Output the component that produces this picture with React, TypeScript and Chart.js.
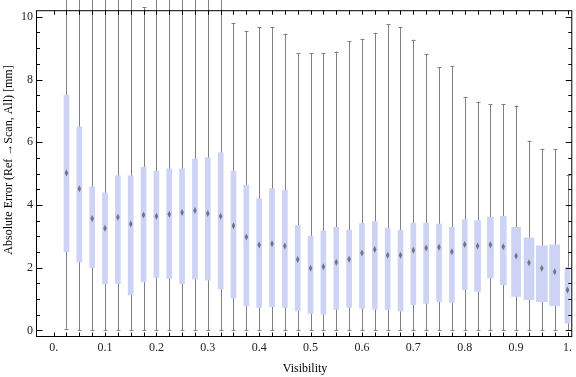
import React, { useEffect, useRef } from "react";
import { Chart, registerables } from "chart.js";
Chart.register(...registerables);

const visibility = [0.025, 0.05, 0.075, 0.1, 0.125, 0.15, 0.175, 0.2, 0.225, 0.25, 0.275, 0.3, 0.325, 0.35, 0.375, 0.4, 0.425, 0.45, 0.475, 0.5, 0.525, 0.55, 0.575, 0.6, 0.625, 0.65, 0.675, 0.7, 0.725, 0.75, 0.775, 0.8, 0.825, 0.85, 0.875, 0.9, 0.925, 0.95, 0.975, 1.0];
const whiskerMin = [0.05, 0, 0, 0, 0, 0, 0, 0, 0, 0, 0, 0, 0, 0, 0, 0, 0, 0, 0, 0, 0, 0, 0, 0, 0, 0, 0, 0, 0, 0, 0, 0, 0, 0, 0, 0, 0, 0, 0, 0];
const q1 = [2.51, 2.18, 2.01, 1.48, 1.5, 1.13, 1.55, 1.69, 1.66, 1.5, 1.63, 1.6, 1.32, 1.04, 0.78, 0.73, 0.76, 0.73, 0.62, 0.54, 0.51, 0.67, 0.73, 0.7, 0.67, 0.67, 0.61, 0.82, 0.86, 0.92, 0.89, 1.3, 1.24, 1.67, 1.45, 1.08, 0.98, 0.92, 0.79, 0.23];
const median = [5.02, 4.52, 3.57, 3.26, 3.61, 3.39, 3.68, 3.64, 3.7, 3.76, 3.82, 3.73, 3.64, 3.34, 2.98, 2.72, 2.76, 2.69, 2.26, 1.98, 2.03, 2.17, 2.27, 2.47, 2.58, 2.4, 2.4, 2.56, 2.63, 2.65, 2.51, 2.74, 2.69, 2.73, 2.67, 2.37, 2.16, 1.98, 1.87, 1.29];
const q3 = [7.5, 6.49, 4.58, 4.39, 4.93, 4.93, 5.21, 5.08, 5.15, 5.15, 5.46, 5.5, 5.67, 5.08, 4.63, 4.2, 4.52, 4.47, 3.35, 3.01, 3.17, 3.29, 3.2, 3.41, 3.47, 3.26, 3.2, 3.42, 3.42, 3.39, 3.29, 3.53, 3.5, 3.61, 3.64, 3.29, 2.95, 2.7, 2.73, 2.0];
const whiskerMax = [11, 11, 11, 11, 11, 11, 10.3, 11, 11, 11, 11, 11, 11, 9.8, 9.55, 9.68, 9.68, 9.46, 8.83, 8.83, 8.83, 8.89, 9.22, 9.3, 9.49, 9.77, 9.68, 9.27, 8.8, 8.4, 8.43, 7.45, 7.29, 7.21, 7.21, 7.17, 6.05, 5.79, 5.77, 4.94];

const xTickValues = [0, 0.1, 0.2, 0.3, 0.4, 0.5, 0.6, 0.7, 0.8, 0.9, 1.0];
const xTickLabels = ["0.", "0.1", "0.2", "0.3", "0.4", "0.5", "0.6", "0.7", "0.8", "0.9", "1."];
const yTickValues = [0, 2, 4, 6, 8, 10];
const yTickLabels = ["0", "2", "4", "6", "8", "10"];
const xTitle = "Visibility";
const yTitle = "Absolute Error (Ref \u2192Scan, All) [mm]";

// style: box widths in px
const boxWidths = [5, 5, 5, 5, 5, 5, 5, 5, 5, 5, 5, 5, 5, 5, 5, 5, 5, 5, 5, 5, 5, 5, 5, 5, 5, 5, 5, 5, 5, 5, 5, 5, 6, 6, 6, 9, 10, 11, 10, 5];

const BOX_COLOR = "rgb(204, 211, 245)";
const WHISKER_COLOR = "rgb(128, 128, 128)";
const FONT = "'Liberation Serif', 'Times New Roman', serif";

export default function App() {
  const ref = useRef<HTMLCanvasElement | null>(null);

  useEffect(() => {
    document.body.style.margin = "0";
    const canvas = ref.current;
    if (!canvas) return;

    const widthsUnique = Array.from(new Set(boxWidths));
    const datasets = widthsUnique.map((w) => ({
      label: "w" + w,
      data: visibility
        .map((x, i) => ({ x, y: [q1[i], q3[i]], i }))
        .filter((d) => boxWidths[d.i] === w)
        .map((d) => ({ x: d.x, y: d.y })),
      backgroundColor: BOX_COLOR,
      borderWidth: 0,
      barThickness: w,
      grouped: false,
    }));

    const boxPlugin = {
      id: "boxParts",
      beforeDatasetsDraw(chart: any) {
        const { ctx, scales } = chart;
        const xs = scales.x, ys = scales.y;
        ctx.save();
        ctx.strokeStyle = WHISKER_COLOR;
        ctx.lineWidth = 1;
        for (let i = 0; i < visibility.length; i++) {
          const px = Math.round(xs.getPixelForValue(visibility[i])) + 0.5;
          const yMin = ys.getPixelForValue(whiskerMin[i]);
          const yMax = ys.getPixelForValue(whiskerMax[i]);
          ctx.beginPath();
          ctx.moveTo(px, yMin);
          ctx.lineTo(px, yMax);
          ctx.moveTo(px - 2, Math.round(yMin) + 0.5);
          ctx.lineTo(px + 2, Math.round(yMin) + 0.5);
          ctx.moveTo(px - 2, Math.round(yMax) + 0.5);
          ctx.lineTo(px + 2, Math.round(yMax) + 0.5);
          ctx.stroke();
        }
        ctx.restore();
      },
      afterDatasetsDraw(chart: any) {
        const { ctx, scales, chartArea } = chart;
        const xs = scales.x, ys = scales.y;
        ctx.save();
        // medians
        ctx.fillStyle = "rgba(100, 100, 110, 0.85)";
        for (let i = 0; i < visibility.length; i++) {
          const px = xs.getPixelForValue(visibility[i]);
          const py = ys.getPixelForValue(median[i]);
          ctx.beginPath();
          ctx.moveTo(px, py - 3.5);
          ctx.lineTo(px + 1.8, py);
          ctx.lineTo(px, py + 3.5);
          ctx.lineTo(px - 1.8, py);
          ctx.closePath();
          ctx.fill();
        }
        // frame
        const L = chartArea.left + 0.5, R = chartArea.right - 0.5;
        const T = chartArea.top + 0.5, B = chartArea.bottom - 0.5;
        ctx.strokeStyle = "#000";
        ctx.lineWidth = 1;
        ctx.strokeRect(L, T, R - L, B - T);
        ctx.beginPath();
        // x ticks (bottom and top), every 0.025
        for (let k = 0; k <= 40; k++) {
          const v = k * 0.025;
          const px = Math.round(xs.getPixelForValue(v)) + 0.5;
          ctx.moveTo(px, B);
          ctx.lineTo(px, B - 4);
          ctx.moveTo(px, T);
          ctx.lineTo(px, T + 4);
        }
        // y ticks (left and right), every 0.5
        for (let k = 0; k <= 20; k++) {
          const v = k * 0.5;
          const py = Math.round(ys.getPixelForValue(v)) + 0.5;
          const len = k % 4 === 0 ? 6 : 3.5;
          ctx.moveTo(L, py);
          ctx.lineTo(L + len, py);
          ctx.moveTo(R, py);
          ctx.lineTo(R - len, py);
        }
        ctx.stroke();
        // titles
        ctx.fillStyle = "#000";
        ctx.font = "12px " + FONT;
        ctx.textAlign = "center";
        ctx.textBaseline = "middle";
        ctx.fillText(xTitle, 305, 369);
        ctx.translate(8.5, 160);
        ctx.rotate(-Math.PI / 2);
        ctx.fillText(yTitle, 0, 0);
        ctx.restore();
      },
    };

    const chart = new Chart(canvas, {
      type: "bar",
      data: { datasets: datasets as any },
      options: {
        animation: false,
        responsive: false,
        maintainAspectRatio: false,
        devicePixelRatio: 1,
        layout: { padding: { top: 4, right: 0, left: 0, bottom: 0 } },
        plugins: { legend: { display: false }, tooltip: { enabled: false } },
        scales: {
          x: {
            type: "linear",
            min: -0.0343,
            max: 1.0093,
            offset: false,
            grid: { display: false, drawTicks: false },
            border: { display: false },
            afterBuildTicks: (scale: any) => {
              scale.ticks = xTickValues.map((v) => ({ value: v }));
            },
            afterFit: (scale: any) => {
              scale.height = 40;
            },
            ticks: {
              autoSkip: false,
              maxRotation: 0,
              padding: 4,
              color: "#222",
              font: { family: FONT, size: 12 },
              callback: (_v: any, idx: number) => xTickLabels[idx],
            },
          },
          y: {
            type: "linear",
            min: -0.21,
            max: 10.21,
            grid: { display: false, drawTicks: false },
            border: { display: false },
            afterBuildTicks: (scale: any) => {
              scale.ticks = yTickValues.map((v) => ({ value: v }));
            },
            afterFit: (scale: any) => {
              scale.width = 36;
            },
            ticks: {
              autoSkip: false,
              padding: 3,
              color: "#222",
              font: { family: FONT, size: 12 },
              callback: (_v: any, idx: number) => yTickLabels[idx],
            },
          },
        },
      },
      plugins: [boxPlugin],
    });

    return () => chart.destroy();
  }, []);

  return (
    <div style={{ width: 576, height: 377 }}>
      <canvas ref={ref} width={576} height={377} style={{ display: "block", width: 576, height: 377 }} />
    </div>
  );
}
